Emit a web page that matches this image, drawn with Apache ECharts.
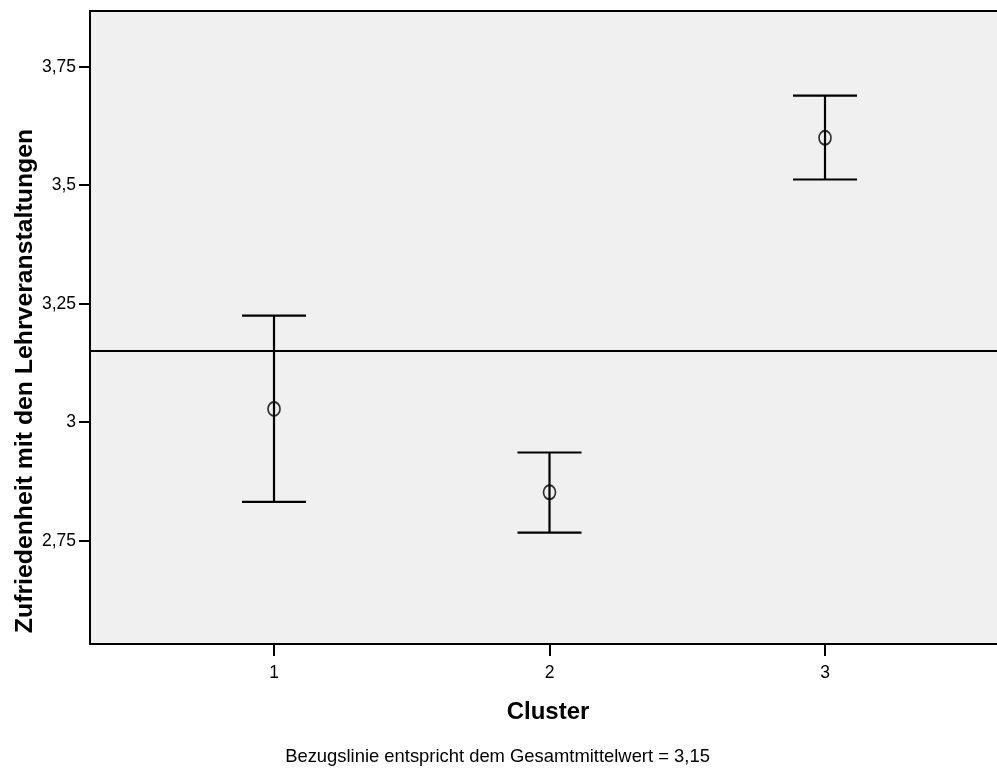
<!DOCTYPE html>
<html><head><meta charset="utf-8">
<script src="https://cdn.jsdelivr.net/npm/echarts@6/dist/echarts.min.js"></script>
<style>html,body{margin:0;padding:0;background:#fff}#c{width:997px;height:771px}</style>
</head><body><div id="c"></div>
<script>
const clusters = [1, 2, 3];
const means = [3.028, 2.852, 3.600];
const lowers = [2.832, 2.767, 3.512];
const uppers = [3.225, 2.936, 3.689];
const referenceMean = 3.146;
const yTicks = [2.75, 3, 3.25, 3.5, 3.75];
const xTicks = [1, 2, 3];
const yTitle = 'Zufriedenheit mit den Lehrveranstaltungen';
const xTitle = 'Cluster';
const footnote = 'Bezugslinie entspricht dem Gesamtmittelwert = 3,15';

const X_MIN = 0.3321, X_MAX = 3.6243, Y_MIN = 2.532, Y_MAX = 3.8675;
const FONT = '"Liberation Sans", Arial, sans-serif';

const chart = echarts.init(document.getElementById('c'));
const meanData = clusters.map((c, i) => [c, means[i]]);
const errData = clusters.map((c, i) => [c, lowers[i], uppers[i]]);

chart.setOption({
  animation: false,
  backgroundColor: '#ffffff',
  grid: { left: 90, right: 0, top: 11, bottom: 127, show: true, backgroundColor: '#f0f0f0', borderWidth: 0, containLabel: false, outerBoundsMode: 'none' },
  xAxis: [{
    type: 'value', min: X_MIN, max: X_MAX, position: 'bottom',
    axisLine: { show: true, onZero: false, lineStyle: { color: '#000', width: 2 } },
    axisTick: { show: true, customValues: xTicks, length: 12, lineStyle: { color: '#000', width: 2 } },
    axisLabel: { show: true, customValues: xTicks, margin: 20, fontSize: 17.5, color: '#000', fontFamily: FONT },
    splitLine: { show: false }
  }, {
    type: 'value', min: X_MIN, max: X_MAX, position: 'top',
    axisLine: { show: true, onZero: false, lineStyle: { color: '#000', width: 2 } },
    axisTick: { show: false }, axisLabel: { show: false }, splitLine: { show: false }
  }],
  yAxis: {
    type: 'value', min: Y_MIN, max: Y_MAX,
    axisLine: { show: true, onZero: false, lineStyle: { color: '#000', width: 2 } },
    axisTick: { show: true, customValues: yTicks, length: 11, lineStyle: { color: '#000', width: 2 } },
    axisLabel: { show: true, customValues: yTicks, margin: 14, fontSize: 17.5, color: '#000', fontFamily: FONT,
      formatter: v => String(v).replace('.', ',') },
    splitLine: { show: false }
  },
  series: [{
    type: 'custom',
    data: errData,
    encode: { x: 0, y: [1, 2] },
    z: 3,
    renderItem: function (params, api) {
      const x = api.value(0), lo = api.value(1), hi = api.value(2);
      const pLo = api.coord([x, lo]), pHi = api.coord([x, hi]);
      const hw = 32;
      const style = { stroke: '#000', lineWidth: 2.2 };
      return { type: 'group', children: [
        { type: 'line', shape: { x1: pLo[0], y1: pLo[1], x2: pHi[0], y2: pHi[1] }, style: style },
        { type: 'line', shape: { x1: pLo[0] - hw, y1: pLo[1], x2: pLo[0] + hw, y2: pLo[1] }, style: style },
        { type: 'line', shape: { x1: pHi[0] - hw, y1: pHi[1], x2: pHi[0] + hw, y2: pHi[1] }, style: style }
      ]};
    }
  }, {
    type: 'scatter',
    data: meanData,
    symbol: 'circle',
    symbolSize: [12, 14],
    z: 4,
    itemStyle: { color: 'rgba(0,0,0,0)', borderColor: '#000', borderWidth: 1.8 },
    markLine: {
      silent: true, symbol: 'none',
      label: { show: false },
      lineStyle: { color: '#000', width: 2, type: 'solid' },
      data: [{ yAxis: referenceMean }]
    }
  }],
  graphic: [
    { type: 'text', x: 25, y: 381, rotation: Math.PI / 2,
      style: { text: yTitle, fill: '#000', font: 'bold 24.8px ' + FONT, align: 'center', verticalAlign: 'middle', textAlign: 'center', textVerticalAlign: 'middle' } },
    { type: 'text', x: 548, y: 712,
      style: { text: xTitle, fill: '#000', font: 'bold 24px ' + FONT, align: 'center', verticalAlign: 'middle', textAlign: 'center', textVerticalAlign: 'middle' } },
    { type: 'text', x: 497.5, y: 757,
      style: { text: footnote, fill: '#000', font: '18.4px ' + FONT, align: 'center', verticalAlign: 'middle', textAlign: 'center', textVerticalAlign: 'middle' } }
  ]
});
</script>
</body></html>
